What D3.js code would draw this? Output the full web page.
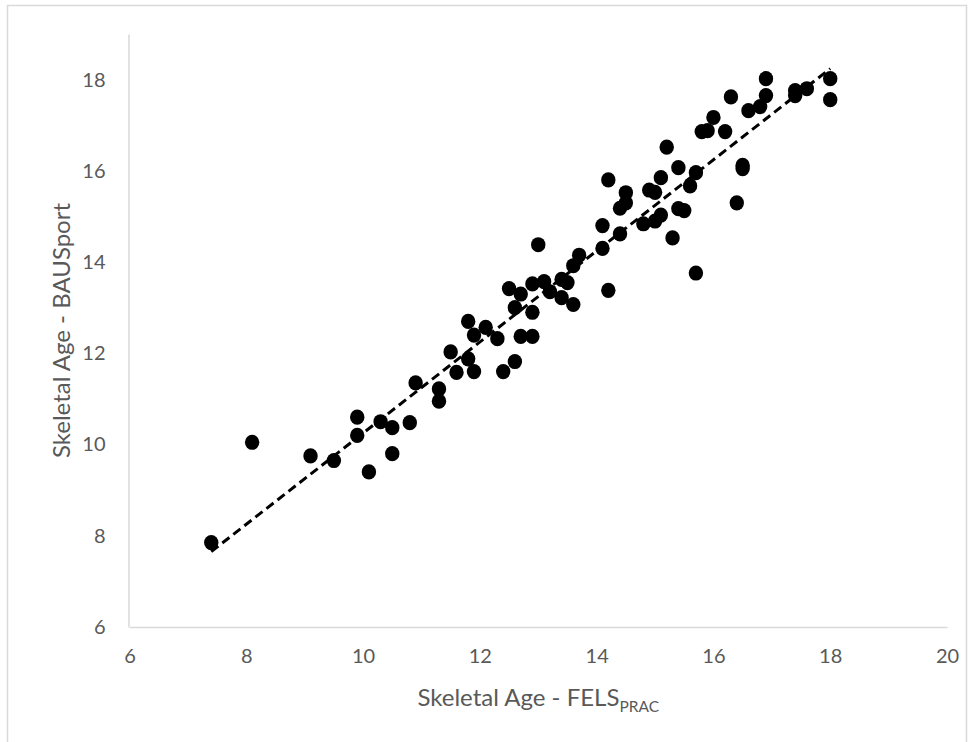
<!DOCTYPE html>
<html>
<head>
<meta charset="utf-8">
<script src="https://cdn.jsdelivr.net/npm/d3@7"></script>
<style>
  html, body { margin: 0; padding: 0; background: #fff; }
  svg { display: block; }
  text { font-family: "Lato", "Open Sans", sans-serif; fill: #595959; }
</style>
</head>
<body>
<svg id="chart" width="975" height="742"></svg>
<script>
// FELS_PRAC skeletal age (x) and BAUSport skeletal age (y)
const felsPrac = [7.4, 8.1, 9.1, 9.5, 9.9, 9.9, 10.1, 10.3, 10.5, 10.5, 10.8, 10.9,
  11.3, 11.3, 11.5, 11.6, 11.8, 11.8, 11.9, 11.9, 12.1, 12.3, 12.4, 12.5, 12.6, 12.6,
  12.7, 12.7, 12.9, 12.9, 12.9, 13.0, 13.1, 13.2, 13.4, 13.4, 13.5, 13.6, 13.6, 13.7,
  14.1, 14.1, 14.2, 14.2, 14.4, 14.4, 14.5, 14.5, 14.8, 14.9, 15.0, 15.0, 15.1, 15.1,
  15.2, 15.3, 15.4, 15.4, 15.5, 15.6, 15.7, 15.7, 15.8, 15.9, 16.0, 16.2, 16.3, 16.4,
  16.5, 16.5, 16.6, 16.8, 16.9, 16.9, 17.4, 17.4, 17.6, 18.0, 18.0];
const bauSport = [7.85, 10.05, 9.75, 9.65, 10.6, 10.2, 9.4, 10.5, 10.37, 9.8, 10.48, 11.35,
  11.22, 10.95, 12.03, 11.58, 12.7, 11.88, 12.4, 11.6, 12.57, 12.32, 11.6, 13.42, 11.82, 13.0,
  13.3, 12.37, 13.52, 12.9, 12.37, 14.38, 13.57, 13.35, 13.62, 13.22, 13.55, 13.07, 13.92, 14.15,
  14.3, 14.8, 15.8, 13.38, 14.62, 15.18, 15.3, 15.52, 14.84, 15.58, 15.53, 14.9, 15.03, 15.85,
  16.52, 14.53, 16.07, 15.17, 15.13, 15.67, 15.96, 13.76, 16.86, 16.88, 17.17, 16.86, 17.62, 15.3,
  16.05, 16.12, 17.32, 17.41, 18.02, 17.65, 17.76, 17.65, 17.8, 18.02, 17.56];
const xTicks = [6, 8, 10, 12, 14, 16, 18, 20];
const yTicks = [6, 8, 10, 12, 14, 16, 18];

const svg = d3.select("#chart");

// outer chart-area border
svg.append("rect")
  .attr("x", 7.5).attr("y", 5.5).attr("width", 959).attr("height", 745)
  .attr("fill", "none").attr("stroke", "#d9d9d9").attr("stroke-width", 1.5);

const x = d3.scaleLinear().domain([6, 20]).range([129.5, 947]);
const y = d3.scaleLinear().domain([6, 19]).range([627, 34]);

// axes
const xAxis = svg.append("g").attr("transform", `translate(0,${y(6)})`)
  .call(d3.axisBottom(x).tickValues(xTicks).tickSize(0).tickPadding(22).tickFormat(d3.format("d")));
const yAxis = svg.append("g").attr("transform", `translate(${x(6) - 1},0)`)
  .call(d3.axisLeft(y).tickValues(yTicks).tickSize(0).tickPadding(23).tickFormat(d3.format("d")));
[xAxis, yAxis].forEach(g => {
  g.select(".domain").attr("stroke", "#d9d9d9").attr("stroke-width", 1.5);
  g.selectAll("text").style("font-family", "Lato, 'Open Sans', sans-serif")
    .style("font-size", "20px").attr("fill", "#595959");
});

// points
const pts = felsPrac.map((v, i) => [v, bauSport[i]]);
svg.append("g").selectAll("ellipse").data(pts).join("ellipse")
  .attr("cx", d => x(d[0])).attr("cy", d => y(d[1]))
  .attr("rx", 7.2).attr("ry", 7.6).attr("fill", "#000");

// linear trendline (least squares)
const mx = d3.mean(felsPrac), my = d3.mean(bauSport);
const slope = d3.sum(pts, d => (d[0] - mx) * (d[1] - my)) / d3.sum(pts, d => (d[0] - mx) ** 2);
const intercept = my - slope * mx;
const [x0, x1] = d3.extent(felsPrac);
svg.append("path")
  .datum([x0, x1])
  .attr("d", d3.line().x(d => x(d)).y(d => y(intercept + slope * d)))
  .attr("fill", "none").attr("stroke", "#000").attr("stroke-width", 3)
  .attr("stroke-dasharray", "9,5");

// axis titles
const xt = svg.append("text").attr("x", (x(6) + x(20)) / 2).attr("y", 706)
  .attr("text-anchor", "middle").style("font-size", "24px");
xt.append("tspan").text("Skeletal Age - FELS");
xt.append("tspan").attr("dy", 6).style("font-size", "15.5px").text("PRAC");

svg.append("text")
  .attr("transform", `translate(70,${(y(6) + y(19)) / 2}) rotate(-90)`)
  .attr("text-anchor", "middle").style("font-size", "24px")
  .text("Skeletal Age - BAUSport");
</script>
</body>
</html>
